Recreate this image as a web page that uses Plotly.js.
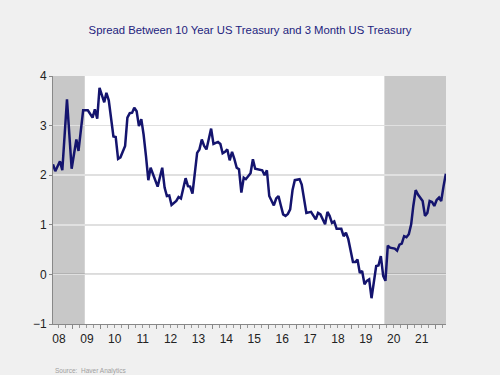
<!DOCTYPE html>
<html>
<head>
<meta charset="utf-8">
<script src="https://cdn.plot.ly/plotly-3.0.1.min.js"></script>
<style>html,body{margin:0;padding:0;background:#f0f0f0;}#chart{width:500px;height:375px;}</style>
</head>
<body>
<div id="chart"></div>
<script>
const dates = [
 '2008-04-15','2008-05-15','2008-07-15','2008-08-15','2008-10-15','2008-12-15',
 '2009-02-15','2009-03-15','2009-05-15','2009-07-15','2009-09-15','2009-10-15','2009-11-15','2009-12-15',
 '2010-02-15','2010-03-15','2010-04-15','2010-06-15','2010-07-15','2010-08-15','2010-09-15','2010-11-15','2010-12-15',
 '2011-01-15','2011-02-15','2011-03-15','2011-04-15','2011-05-15','2011-06-15','2011-07-15','2011-08-15','2011-09-15','2011-10-15','2011-11-15','2011-12-15',
 '2012-01-15','2012-03-15','2012-04-15','2012-05-15','2012-06-15','2012-07-15','2012-09-15','2012-10-15','2012-11-15',
 '2013-01-15','2013-02-15','2013-03-15','2013-04-15','2013-06-15','2013-07-15','2013-08-15','2013-09-15','2013-10-15','2013-11-15','2013-12-15',
 '2014-01-15','2014-03-15','2014-04-15','2014-05-15','2014-06-15','2014-07-15','2014-08-15','2014-09-15','2014-10-15','2014-11-15','2014-12-15',
 '2015-01-15','2015-02-15','2015-03-15','2015-05-15','2015-06-15','2015-07-15','2015-09-15','2015-10-15','2015-11-15','2015-12-15',
 '2016-01-15','2016-03-15','2016-04-15','2016-05-15','2016-06-15','2016-07-15','2016-08-15','2016-09-15','2016-10-15','2016-11-15','2016-12-15',
 '2017-02-15','2017-03-15','2017-04-15','2017-05-15','2017-07-15','2017-08-15','2017-09-15','2017-10-15','2017-11-15',
 '2018-01-15','2018-02-15','2018-03-15','2018-04-15','2018-05-15','2018-06-15','2018-08-15','2018-09-15','2018-10-15','2018-11-15',
 '2019-01-15','2019-02-15','2019-03-15','2019-04-15','2019-05-15','2019-06-15','2019-07-15','2019-08-15','2019-09-15','2019-11-15','2019-12-15',
 '2020-01-15','2020-02-15','2020-03-15','2020-04-15','2020-05-15','2020-07-15','2020-08-15','2020-09-15','2020-10-15','2020-11-15','2020-12-15',
 '2021-01-15','2021-02-15','2021-03-15','2021-04-15','2021-05-15','2021-07-15','2021-08-15','2021-09-15','2021-10-15','2021-11-15','2021-12-15',
 '2022-01-15','2022-02-15','2022-03-15','2022-04-15','2022-05-15'
];
const spread = [
 2.22,2.08,2.28,2.10,3.53,2.13,
 2.72,2.49,3.31,3.31,3.16,3.33,3.14,3.76,
 3.47,3.66,3.51,2.78,2.77,2.33,2.36,2.59,3.16,
 3.25,3.26,3.36,3.29,2.99,3.13,2.82,2.39,1.90,2.15,2.02,1.86,
 1.77,2.15,1.75,1.58,1.59,1.40,1.48,1.56,1.53,
 1.94,1.78,1.77,1.63,2.45,2.52,2.72,2.59,2.52,2.72,2.94,
 2.63,2.67,2.63,2.44,2.47,2.52,2.30,2.47,2.33,2.15,2.12,
 1.65,1.95,1.92,2.04,2.32,2.13,2.12,2.10,2.00,2.10,
 1.58,1.39,1.53,1.58,1.39,1.21,1.18,1.22,1.31,1.70,1.90,
 1.92,1.81,1.55,1.24,1.26,1.19,1.11,1.24,1.21,
 1.01,1.26,1.18,1.04,1.07,0.92,0.92,0.77,0.84,0.71,
 0.25,0.25,0.30,0.03,0.07,-0.20,-0.13,-0.10,-0.48,0.17,0.18,
 0.37,-0.03,-0.13,0.58,0.54,0.52,0.48,0.60,0.62,0.77,0.75,
 0.81,1.01,1.38,1.70,1.61,1.48,1.18,1.24,1.48,1.46,1.38,
 1.50,1.55,1.48,1.78,2.03
];
// Recession periods (shaded)
const recStart = ['2008-04-15','2020-03-01'];
const recEnd   = ['2009-06-05','2022-05-17'];
const xRange = ['2008-04-15','2022-05-17'];
const yTicks = [-1,0,1,2,3,4];

const shapes = recStart.map((s,i)=>({
  type:'rect', xref:'x', yref:'paper', x0:s, x1:recEnd[i], y0:0, y1:1,
  fillcolor:'#c8c8c8', line:{width:0}, layer:'between'
}));
shapes.push({type:'line', xref:'paper', yref:'y', x0:0, x1:1, y0:0, y1:0,
  line:{color:'#707070', width:1.2}, layer:'between'});

const trace = {
  x: dates, y: spread, type:'scatter', mode:'lines',
  line:{color:'#14146e', width:2.5}, hoverinfo:'skip'
};

const layout = {
  width:500, height:375,
  margin:{l:53, r:54, t:76, b:51},
  paper_bgcolor:'#f0f0f0', plot_bgcolor:'#ffffff',
  showlegend:false,
  font:{family:'"Liberation Sans", Arial, sans-serif', size:12, color:'#222'},
  title:{text:'Spread Between 10 Year US Treasury and 3 Month US Treasury',
    font:{family:'"Liberation Sans", Arial, sans-serif', size:11.3, color:'#23237e'},
    x:0.5, xanchor:'center', y:0.92, yanchor:'middle', yref:'container'},
  xaxis:{type:'date', range:xRange, tick0:'2008-01-01', dtick:'M12', tickformat:'%y',
    ticklabelmode:'period', ticks:'outside', ticklen:4, tickcolor:'#888', tickwidth:1,
    minor:{dtick:'M3', ticks:'outside', ticklen:3, tickcolor:'#999', showgrid:false},
    showgrid:false, showline:true, linecolor:'#888', linewidth:1, zeroline:false,
    tickfont:{size:12, color:'#222'}},
  yaxis:{range:[-1,4], tickvals:yTicks, ticks:'outside', ticklen:3, tickcolor:'#888',
    showgrid:true, gridcolor:'#e0e0e0', gridwidth:1.5, zeroline:false,
    showline:true, linecolor:'#888', linewidth:1, tickfont:{size:12, color:'#222'}},
  shapes: shapes,
  annotations:[{text:'Source:  Haver Analytics', xref:'paper', yref:'paper', x:0, y:-0.19,
    xanchor:'left', yanchor:'middle', showarrow:false,
    font:{size:6.5, color:'#a0a0a0', family:'"Liberation Sans", Arial, sans-serif'}}]
};
Plotly.newPlot('chart',[trace],layout,{displayModeBar:false,staticPlot:true});
</script>
</body>
</html>
